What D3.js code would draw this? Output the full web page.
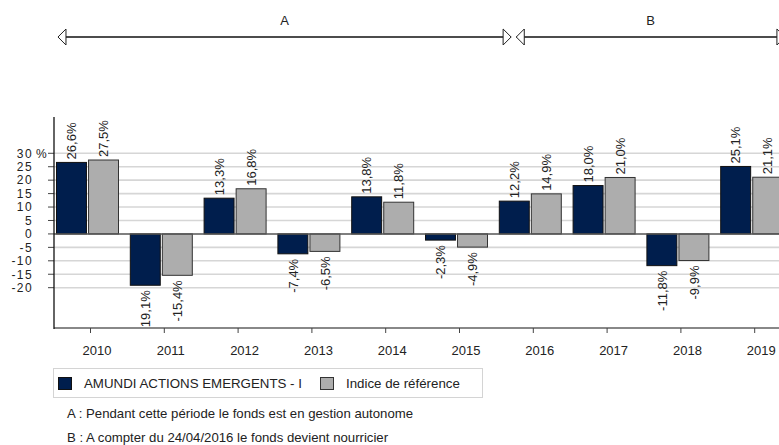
<!DOCTYPE html>
<html>
<head>
<meta charset="utf-8">
<script src="https://cdn.jsdelivr.net/npm/d3@7"></script>
<style>
  body { margin: 0; background: #fff; }
  svg { display: block; font-family: "Liberation Sans", Arial, sans-serif; }
</style>
</head>
<body>
<script>
// chart values
var years = ["2010","2011","2012","2013","2014","2015","2016","2017","2018","2019"];
var fundValues = [26.6, -19.1, 13.3, -7.4, 13.8, -2.3, 12.2, 18.0, -11.8, 25.1];
var indexValues = [27.5, -15.4, 16.8, -6.5, 11.8, -4.9, 14.9, 21.0, -9.9, 21.1];
var seriesNames = ["AMUNDI ACTIONS EMERGENTS - I", "Indice de référence"];
var yTicks = [-20, -15, -10, -5, 0, 5, 10, 15, 20, 25, 30];
var periodLabels = ["A", "B"];
var periodFrom = [2009.6, 2015.81];
var periodTo = [2015.74, 2019.45];
var notes = ["A : Pendant cette période le fonds est en gestion autonome",
             "B : A compter du 24/04/2016 le fonds devient nourricier"];

var W = 779, H = 445;
var plotLeft = 54, plotRight = W, plotTop = 117, plotBottom = 328;
var colors = ["#001e4d", "#adadad"];
var strokes = ["#111", "#333"];

var fr = d3.formatLocale({decimal: ",", thousands: " ", grouping: [3], currency: ["", "€"], minus: "-"});
var fmt = fr.format(".1f");

var svg = d3.select("body").append("svg")
            .attr("width", W)
            .attr("height", H);

var x = d3.scaleBand()
          .domain(years)
          .range([50.6, 50.6 + 73.8 * years.length])
          .paddingInner(0);

var y = d3.scaleLinear()
          .domain([-35, 43.5])
          .range([plotBottom, plotTop]);

var bw = x.bandwidth();
var xSub = d3.scaleBand()
             .domain([0, 1])
             .range([bw / 2 - 31, bw / 2 + 31])
             .paddingInner(0.065);

svg.append("clipPath").attr("id", "plotclip")
   .append("rect")
   .attr("x", plotLeft).attr("y", plotTop - 10)
   .attr("width", plotRight - plotLeft).attr("height", plotBottom - plotTop + 10);

// gridlines
svg.append("g").selectAll("line")
   .data(yTicks.filter(function(d){ return d != 0; }))
   .enter().append("line")
   .attr("x1", plotLeft).attr("x2", plotRight)
   .attr("y1", function(d){ return y(d); })
   .attr("y2", function(d){ return y(d); })
   .attr("stroke", "#d6d6d6")
   .attr("stroke-width", 1.6);

// y ticks + labels
var yAxis = svg.append("g");
yAxis.selectAll("line")
   .data(yTicks).enter().append("line")
   .attr("x1", plotLeft - 6).attr("x2", plotLeft)
   .attr("y1", function(d){ return y(d); })
   .attr("y2", function(d){ return y(d); })
   .attr("stroke", "#444");
yAxis.selectAll("text")
   .data(yTicks).enter().append("text")
   .attr("x", 33)
   .attr("y", function(d){ return y(d); })
   .attr("dy", "0.36em")
   .attr("text-anchor", "end")
   .attr("font-size", "12px")
   .attr("letter-spacing", "1.4px")
   .attr("fill", "#222")
   .text(function(d){ return d; });
yAxis.append("text")
   .attr("x", 36)
   .attr("y", y(30))
   .attr("dy", "0.36em")
   .attr("font-size", "12px")
   .attr("fill", "#222")
   .text("%");

// bars
var plot = svg.append("g").attr("clip-path", "url(#plotclip)");
var table = years.map(function(yr, i){ return {year: yr, vals: [fundValues[i], indexValues[i]]}; });

var groups = plot.selectAll("g.grp")
   .data(table).enter().append("g")
   .attr("class", "grp")
   .attr("transform", function(d){ return "translate(" + x(d.year) + ",0)"; });

groups.selectAll("rect")
   .data(function(d){ return d.vals.map(function(v, s){ return {v: v, s: s}; }); })
   .enter().append("rect")
   .attr("x", function(d){ return xSub(d.s); })
   .attr("width", xSub.bandwidth())
   .attr("y", function(d){ return y(Math.max(0, d.v)); })
   .attr("height", function(d){ return Math.abs(y(d.v) - y(0)); })
   .attr("fill", function(d){ return colors[d.s]; })
   .attr("stroke", function(d){ return strokes[d.s]; })
   .attr("stroke-width", 1);

groups.selectAll("text")
   .data(function(d){ return d.vals.map(function(v, s){ return {v: v, s: s}; }); })
   .enter().append("text")
   .attr("transform", function(d){
       var cx = xSub(d.s) + xSub.bandwidth() / 2;
       var cy = d.v >= 0 ? y(d.v) - 3 : y(d.v) + 5;
       return "translate(" + cx + "," + cy + ") rotate(-90)";
   })
   .attr("dy", "0.36em")
   .attr("text-anchor", function(d){ return d.v >= 0 ? "start" : "end"; })
   .attr("font-size", "13px")
   .attr("fill", "#222")
   .text(function(d){ return fmt(d.v) + "%"; });

// zero line
svg.append("line")
   .attr("x1", plotLeft).attr("x2", plotRight)
   .attr("y1", y(0)).attr("y2", y(0))
   .attr("stroke", "#555").attr("stroke-width", 1.5);

// axes lines
svg.append("line")
   .attr("x1", plotLeft).attr("x2", plotRight)
   .attr("y1", plotBottom).attr("y2", plotBottom)
   .attr("stroke", "#888").attr("stroke-width", 2);
svg.append("line")
   .attr("x1", plotLeft).attr("x2", plotLeft)
   .attr("y1", plotTop).attr("y2", plotBottom + 1)
   .attr("stroke", "#111").attr("stroke-width", 1.3);

// x ticks and labels
var xAxis = svg.append("g");
xAxis.selectAll("line")
   .data(years).enter().append("line")
   .attr("x1", function(d){ return x(d) + bw / 2 + 3; })
   .attr("x2", function(d){ return x(d) + bw / 2 + 3; })
   .attr("y1", plotBottom).attr("y2", plotBottom + 5)
   .attr("stroke", "#444");
xAxis.selectAll("text")
   .data(years).enter().append("text")
   .attr("x", function(d){ return x(d) + bw / 2 + 9.5; })
   .attr("y", 355)
   .attr("text-anchor", "middle")
   .attr("font-size", "13px")
   .attr("fill", "#222")
   .text(function(d){ return d; });

// period arrows on top
var xYear = d3.scaleLinear()
   .domain([+years[0], +years[years.length - 1]])
   .range([x(years[0]) + bw / 2, x(years[years.length - 1]) + bw / 2]);
var ay = 37;
periodLabels.forEach(function(lab, i){
    var x1 = xYear(periodFrom[i]), x2 = xYear(periodTo[i]);
    svg.append("line")
       .attr("x1", x1).attr("x2", x2)
       .attr("y1", ay).attr("y2", ay)
       .attr("stroke", "#111").attr("stroke-width", 1.5);
    svg.append("path")
       .attr("d", "M" + x1 + "," + ay + "L" + (x1 + 8) + "," + (ay - 8) + "L" + (x1 + 8) + "," + (ay + 8) + "Z")
       .attr("fill", "#fff").attr("stroke", "#222").attr("stroke-width", 1);
    svg.append("path")
       .attr("d", "M" + x2 + "," + ay + "L" + (x2 - 8) + "," + (ay - 8) + "L" + (x2 - 8) + "," + (ay + 8) + "Z")
       .attr("fill", "#fff").attr("stroke", "#222").attr("stroke-width", 1);
    svg.append("text")
       .attr("x", (x1 + x2) / 2)
       .attr("y", 25)
       .attr("text-anchor", "middle")
       .attr("font-size", "13px")
       .attr("fill", "#222")
       .text(lab);
});

// legend
var leg = svg.append("g");
leg.append("rect")
   .attr("x", 53.5).attr("y", 368.5)
   .attr("width", 429).attr("height", 29)
   .attr("fill", "#fff").attr("stroke", "#d4d4d4");
var legX = [58, 320];
seriesNames.forEach(function(name, i){
    leg.append("rect")
       .attr("x", legX[i] + 0.5).attr("y", 377.5)
       .attr("width", 13).attr("height", 12)
       .attr("fill", colors[i]).attr("stroke", strokes[i]);
    leg.append("text")
       .attr("x", legX[i] + 26)
       .attr("y", 388)
       .attr("font-size", "13.3px")
       .attr("fill", "#222")
       .text(name);
});

// footnotes
svg.selectAll("text.note")
   .data(notes).enter().append("text")
   .attr("class", "note")
   .attr("x", 67)
   .attr("y", function(d, i){ return 418 + i * 24; })
   .attr("font-size", "13.2px")
   .attr("fill", "#222")
   .text(function(d){ return d; });
</script>
</body>
</html>
